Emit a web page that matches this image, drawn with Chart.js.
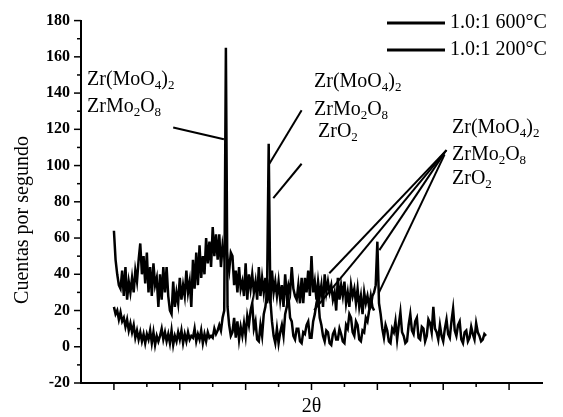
<!DOCTYPE html>
<html>
<head>
<meta charset="utf-8">
<script src="https://cdn.jsdelivr.net/npm/chart.js@4/dist/chart.umd.min.js"></script>
<style>
  html, body { margin: 0; padding: 0; background: #fff; }
  canvas { display: block; }
</style>
</head>
<body>
<canvas id="xrdChart" width="563" height="417"></canvas>
<script>
// 2-theta positions (degrees)
const angles = [
  10, 10.25, 10.5, 10.75, 11, 11.25, 11.5, 11.75, 12, 12.25, 12.5, 12.75, 13, 13.25, 13.5, 13.75,
  14, 14.25, 14.5, 14.75, 15, 15.25, 15.5, 15.75, 16, 16.25, 16.5, 16.75, 17, 17.25, 17.5, 17.75,
  18, 18.25, 18.5, 18.75, 19, 19.25, 19.5, 19.75, 20, 20.25, 20.5, 20.75, 21, 21.25, 21.5, 21.75,
  22, 22.25, 22.5, 22.75, 23, 23.25, 23.5, 23.75, 24, 24.25, 24.5, 24.75, 25, 25.25, 25.5, 25.75,
  26, 26.25, 26.5, 26.75, 27, 27.25, 27.5, 27.75, 28, 28.25, 28.5, 28.75, 29, 29.25, 29.5, 29.75,
  30, 30.25, 30.5, 30.75, 31, 31.25, 31.5, 31.75, 32, 32.25, 32.5, 32.75, 33, 33.25, 33.5, 33.75,
  34, 34.25, 34.5, 34.75, 35, 35.25, 35.5, 35.75, 36, 36.25, 36.5, 36.75, 37, 37.25, 37.5, 37.75,
  38, 38.25, 38.5, 38.75, 39, 39.25, 39.5, 39.75, 40, 40.25, 40.5, 40.75, 41, 41.25, 41.5, 41.75,
  42, 42.25, 42.5, 42.75, 43, 43.25, 43.5, 43.75, 44, 44.25, 44.5, 44.75, 45, 45.25, 45.5, 45.75,
  46, 46.25, 46.5, 46.75, 47, 47.25, 47.5, 47.75, 48, 48.25, 48.5, 48.75, 49, 49.25, 49.5, 49.75,
  50, 50.25, 50.5, 50.75, 51, 51.25, 51.5, 51.75, 52, 52.25, 52.5, 52.75, 53, 53.25, 53.5, 53.75,
  54, 54.25, 54.5, 54.75, 55, 55.25, 55.5, 55.75, 56, 56.25, 56.5, 56.75, 57, 57.25, 57.5, 57.75,
  58, 58.25, 58.5, 58.75, 59, 59.25, 59.5, 59.75, 60, 60.25, 60.5, 60.75, 61, 61.25, 61.5, 61.75,
  62, 62.25, 62.5, 62.75, 63, 63.25, 63.5, 63.75, 64, 64.25, 64.5, 64.75, 65, 65.25, 65.5, 65.75,
  66, 66.25, 66.5
];

// 1.0:1 600°C (crystalline, sharp peaks)
const counts600 = [
  22, 18, 20, 15, 19, 14, 16, 11, 15, 9, 13, 8, 12, 5, 9, 4,
  8, 3, 7, 2, 7, 4, 9, 2, 8, 1, 6, 3, 6, 10, 4, 8,
  3, 7, 2, 9, 1, 6, 3, 8, 4, 9, 2, 7, 3, 8, 4, 6,
  5, 10, 3, 7, 4, 9, 2, 7, 3, 8, 5, 6, 5, 10, 7, 9,
  12, 9, 16, 20, 165, 22, 12, 6, 8, 16, 5, 14, 4, 11, 6, 13,
  6, 17, 12, 20, 24, 10, 14, 4, 3, 12, 6, 18, 22, 30, 112, 26,
  14, 6, 2, 10, 2, 8, 12, 6, 18, 22, 28, 16, 14, 6, 4, 10,
  10, 3, 2, 8, 7, 12, 14, 5, 5, 14, 18, 24, 28, 16, 12, 6,
  3, 9, 8, 2, 1, 7, 9, 4, 4, 10, 7, 3, 2, 12, 10, 18,
  16, 8, 6, 14, 12, 4, 3, 9, 8, 16, 14, 20, 22, 28, 30, 34,
  58, 24, 18, 10, 5, 12, 9, 3, 2, 10, 8, 14, 4, 12, 19, 8,
  6, 2, 3, 12, 18, 9, 7, 14, 16, 5, 4, 11, 10, 3, 6, 15,
  13, 8, 22, 10, 8, 4, 12, 6, 3, 10, 15, 7, 5, 14, 21, 9,
  6, 12, 14, 4, 2, 8, 9, 3, 5, 11, 7, 4, 13, 8, 6, 3,
  4, 7, 6
];

// 1.0:1 200°C (amorphous hump), stops near 49.5°
const counts200 = [
  64, 48, 40, 34, 32, 42, 28, 44, 26, 36, 30, 38, 30, 42, 36, 48,
  57, 40, 50, 35, 52, 30, 44, 28, 46, 34, 38, 22, 40, 26, 44, 30,
  44, 28, 20, 18, 36, 22, 30, 24, 38, 26, 34, 28, 42, 30, 36, 22,
  48, 32, 52, 34, 56, 38, 50, 40, 60, 46, 58, 44, 66, 50, 62, 48,
  62, 44, 56, 50, 58, 48, 42, 52, 50, 34, 42, 30, 44, 32, 36, 28,
  46, 26, 40, 32, 40, 30, 36, 26, 44, 28, 38, 30, 38, 24, 32, 24,
  42, 30, 36, 28, 36, 26, 34, 22, 40, 28, 34, 30, 44, 32, 28, 26,
  34, 24, 38, 24, 38, 30, 42, 28, 50, 30, 36, 26, 36, 28, 34, 22,
  40, 30, 36, 30, 34, 26, 30, 20, 38, 26, 34, 28, 36, 24, 30, 22,
  34, 28, 32, 24, 32, 22, 28, 18, 30, 24, 28, 22, 28, 22, 20
];

const seriesLabels = ["1.0:1 600°C", "1.0:1 200°C"];
const yTicks = [-20, 0, 20, 40, 60, 80, 100, 120, 140, 160, 180];

// phase labels ("_" marks a subscript digit) and leader lines in data units [angle, counts]
const phaseLabels = [
  { text: ["Zr(MoO_4)_2", "ZrMo_2O_8"], px: [[87, 80], [87, 107]] },
  { text: ["Zr(MoO_4)_2", "ZrMo_2O_8", "ZrO_2"], px: [[314, 82], [314, 110], [318, 132]] },
  { text: ["Zr(MoO_4)_2", "ZrMo_2O_8", "ZrO_2"], px: [[452, 128], [452, 155], [452, 179]] }
];
const leaderLines = [
  [[19.0, 121], [26.7, 114.5]],
  [[38.5, 130.5], [33.6, 101]],
  [[38.5, 101], [34.2, 82]],
  [[60.5, 108.5], [42.7, 40.6]],
  [[60.5, 108.5], [40.4, 20.2]],
  [[60.2, 107], [50.3, 53.3]],
  [[60.2, 106], [50.2, 29.6]]
];

const serif = '"Liberation Serif", "Times New Roman", serif';

function drawChem(ctx, text, x, y) {
  const parts = text.split(/(_\d)/).filter(Boolean);
  let cx = x;
  parts.forEach((p) => {
    if (p[0] === "_") {
      ctx.font = "13px " + serif;
      ctx.fillText(p.slice(1), cx, y + 6);
      cx += ctx.measureText(p.slice(1)).width;
    } else {
      ctx.font = "20px " + serif;
      ctx.fillText(p, cx, y);
      cx += ctx.measureText(p).width;
    }
  });
}

const decorations = {
  id: "decorations",
  beforeDraw(chart) {
    const ctx = chart.ctx;
    ctx.save();
    ctx.fillStyle = "#fff";
    ctx.fillRect(0, 0, chart.width, chart.height);
    ctx.restore();
  },
  afterDraw(chart) {
    const ctx = chart.ctx;
    const xs = chart.scales.x;
    const ys = chart.scales.y;
    const area = chart.chartArea;
    ctx.save();
    ctx.strokeStyle = "#000";
    ctx.fillStyle = "#000";

    // tick marks (major + minor), pointing outward
    ctx.lineWidth = 1.5;
    for (let v = -20; v <= 180; v += 10) {
      const y = ys.getPixelForValue(v);
      const len = v % 20 === 0 ? 7 : 4;
      ctx.beginPath();
      ctx.moveTo(area.left - len, y);
      ctx.lineTo(area.left, y);
      ctx.stroke();
    }
    for (let v = 10; v <= 70; v += 5) {
      const x = xs.getPixelForValue(v);
      const len = v % 10 === 0 ? 7 : 4;
      ctx.beginPath();
      ctx.moveTo(x, area.bottom);
      ctx.lineTo(x, area.bottom + len);
      ctx.stroke();
    }

    // y title
    ctx.save();
    ctx.translate(23, 220);
    ctx.rotate(-Math.PI / 2);
    ctx.font = "20px " + serif;
    ctx.textAlign = "center";
    ctx.textBaseline = "middle";
    ctx.fillText("Cuentas por segundo", 0, 0);
    ctx.restore();

    // leader lines
    ctx.lineWidth = 2;
    leaderLines.forEach(([a, b]) => {
      ctx.beginPath();
      ctx.moveTo(xs.getPixelForValue(a[0]), ys.getPixelForValue(a[1]));
      ctx.lineTo(xs.getPixelForValue(b[0]), ys.getPixelForValue(b[1]));
      ctx.stroke();
    });

    // phase labels
    ctx.textAlign = "left";
    ctx.textBaseline = "middle";
    phaseLabels.forEach((g) => {
      g.text.forEach((t, i) => drawChem(ctx, t, g.px[i][0], g.px[i][1]));
    });

    // legend
    ctx.font = "20px " + serif;
    seriesLabels.forEach((label, i) => {
      const y = 23 + i * 27;
      ctx.lineWidth = 3;
      ctx.beginPath();
      ctx.moveTo(387, y);
      ctx.lineTo(445, y);
      ctx.stroke();
      ctx.fillText(label, 450, y);
    });
    ctx.restore();
  }
};

const toPoints = (vals) => vals.map((v, i) => ({ x: angles[i], y: v }));

new Chart(document.getElementById("xrdChart").getContext("2d"), {
  type: "line",
  data: {
    datasets: [
      {
        label: seriesLabels[0],
        data: toPoints(counts600),
        borderColor: "#000",
        borderWidth: 2.5,
        pointRadius: 0,
        fill: false,
        tension: 0,
      },
      {
        label: seriesLabels[1],
        data: toPoints(counts200),
        borderColor: "#000",
        borderWidth: 2.5,
        pointRadius: 0,
        fill: false,
        tension: 0,
      },
    ],
  },
  options: {
    responsive: false,
    animation: false,
    events: [],
    layout: { padding: { top: 20, right: 21, bottom: 0, left: 0 } },
    plugins: {
      legend: { display: false },
      tooltip: { enabled: false },
    },
    scales: {
      x: {
        type: "linear",
        min: 5,
        max: 75,
        grid: { display: false },
        border: { display: true, color: "#000", width: 2 },
        ticks: { display: false },
        title: {
          display: true,
          text: "2θ",
          color: "#000",
          padding: 0,
          font: { family: serif, size: 20, lineHeight: 1 },
        },
        afterFit(s) { s.height = 34; },
      },
      y: {
        min: -20,
        max: 180,
        grid: { display: false, drawTicks: false },
        border: { display: true, color: "#000", width: 2 },
        afterBuildTicks(s) { s.ticks = yTicks.map((v) => ({ value: v })); },
        ticks: {
          color: "#000",
          padding: 11,
          font: { family: serif, size: 16, weight: "bold" },
        },
        afterFit(s) { s.width = 81; },
      },
    },
  },
  plugins: [decorations],
});
</script>
</body>
</html>
